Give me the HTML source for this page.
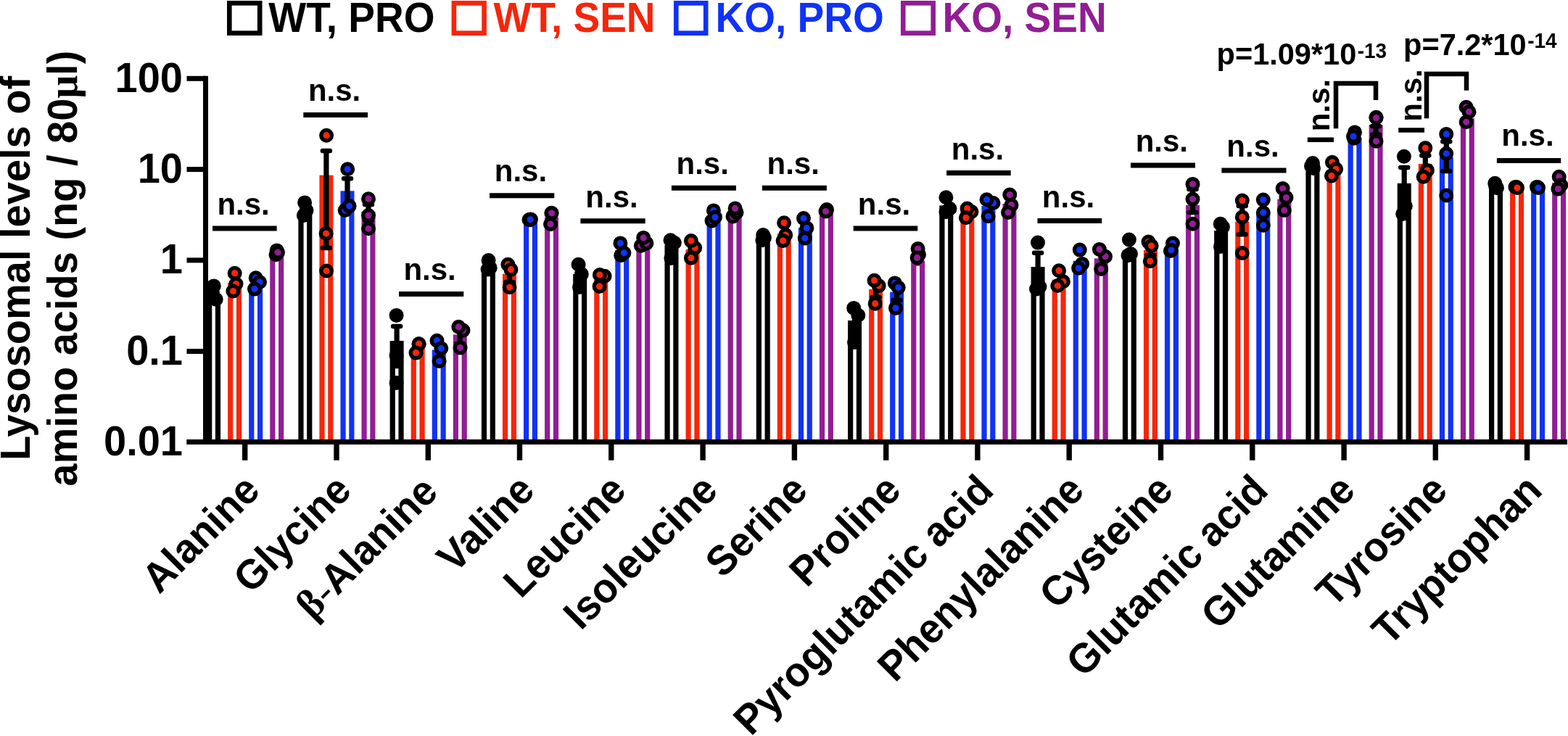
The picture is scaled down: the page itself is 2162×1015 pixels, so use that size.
<!DOCTYPE html>
<html><head><meta charset="utf-8"><title>Lysosomal amino acids</title>
<style>
html,body{margin:0;padding:0;background:#fff;}
svg{display:block;}
text{font-family:"Liberation Sans",Arial,Helvetica,sans-serif;font-weight:bold;}
</style></head><body>
<svg width="2162" height="1015" viewBox="0 0 2162 1015">
<rect x="0" y="0" width="2162" height="1015" fill="#fff"/>
<rect x="316.3" y="4.3" width="41.9" height="41.4" fill="none" stroke="#000000" stroke-width="6.6"/>
<text transform="translate(370.3,43.5) scale(1,1.04)" font-size="55" fill="#000000">WT, PRO</text>
<rect x="625.9" y="4.3" width="41.7" height="41.4" fill="none" stroke="#F5260A" stroke-width="6.6"/>
<text transform="translate(680.5,43.5) scale(1,1.04)" font-size="55" fill="#F5260A">WT, SEN</text>
<rect x="932.3" y="4.3" width="40.9" height="41.4" fill="none" stroke="#1032F5" stroke-width="6.6"/>
<text transform="translate(986.5,43.5) scale(1,1.04)" font-size="55" fill="#1032F5">KO, PRO</text>
<rect x="1245.3" y="4.3" width="41.4" height="41.4" fill="none" stroke="#911E93" stroke-width="6.6"/>
<text transform="translate(1299.5,43.5) scale(1,1.04)" font-size="55" fill="#911E93">KO, SEN</text>
<text transform="translate(41.0,369.9) rotate(-90) scale(1,1.02)" text-anchor="middle" font-size="56">Lysosomal levels of</text>
<text transform="translate(106.3,370.2) rotate(-90) scale(1,1.02)" text-anchor="middle" font-size="56">amino acids (ng / 80<tspan font-family="Liberation Serif">μ</tspan>l)</text>
<line x1="283.5" y1="104.8" x2="283.5" y2="613.0" stroke="#000" stroke-width="7"/>
<line x1="257.5" y1="108.3" x2="283.5" y2="108.3" stroke="#000" stroke-width="7"/>
<text transform="translate(252,126.6) scale(1,1.04)" text-anchor="end" font-size="56">100</text>
<line x1="257.5" y1="233.6" x2="283.5" y2="233.6" stroke="#000" stroke-width="7"/>
<text transform="translate(252,251.9) scale(1,1.04)" text-anchor="end" font-size="56">10</text>
<line x1="257.5" y1="358.9" x2="283.5" y2="358.9" stroke="#000" stroke-width="7"/>
<text transform="translate(252,377.2) scale(1,1.04)" text-anchor="end" font-size="56">1</text>
<line x1="257.5" y1="484.5" x2="283.5" y2="484.5" stroke="#000" stroke-width="7"/>
<text transform="translate(252,502.8) scale(1,1.04)" text-anchor="end" font-size="56">0.1</text>
<line x1="257.5" y1="609.5" x2="283.5" y2="609.5" stroke="#000" stroke-width="7"/>
<text transform="translate(252,627.8) scale(1,1.04)" text-anchor="end" font-size="56">0.01</text>
<rect x="285.07" y="405.0" width="19.0" height="204.5" fill="#000000"/>
<rect x="292.27" y="412.2" width="4.6" height="197.3" fill="#fff"/>
<rect x="314.12" y="390.0" width="19.0" height="219.5" fill="#F5260A"/>
<rect x="321.32" y="397.2" width="4.6" height="212.3" fill="#fff"/>
<rect x="343.18" y="395.0" width="19.0" height="214.5" fill="#1032F5"/>
<rect x="350.38" y="402.2" width="4.6" height="207.3" fill="#fff"/>
<rect x="372.23" y="352.0" width="19.0" height="257.5" fill="#911E93"/>
<rect x="379.43" y="359.2" width="4.6" height="250.3" fill="#fff"/>
<rect x="411.36" y="290.0" width="19.0" height="319.5" fill="#000000"/>
<rect x="418.56" y="297.2" width="4.6" height="312.3" fill="#fff"/>
<rect x="440.41" y="241.6" width="19.0" height="367.9" fill="#F5260A"/>
<rect x="447.61" y="248.8" width="4.6" height="360.7" fill="#fff"/>
<rect x="469.46" y="263.3" width="19.0" height="346.2" fill="#1032F5"/>
<rect x="476.66" y="270.5" width="4.6" height="339.0" fill="#fff"/>
<rect x="498.50" y="292.0" width="19.0" height="317.5" fill="#911E93"/>
<rect x="505.70" y="299.2" width="4.6" height="310.3" fill="#fff"/>
<rect x="537.63" y="470.0" width="19.0" height="139.5" fill="#000000"/>
<rect x="544.84" y="477.2" width="4.6" height="132.3" fill="#fff"/>
<rect x="566.68" y="480.0" width="19.0" height="129.5" fill="#F5260A"/>
<rect x="573.88" y="487.2" width="4.6" height="122.3" fill="#fff"/>
<rect x="595.74" y="482.5" width="19.0" height="127.0" fill="#1032F5"/>
<rect x="602.94" y="489.7" width="4.6" height="119.8" fill="#fff"/>
<rect x="624.78" y="461.4" width="19.0" height="148.1" fill="#911E93"/>
<rect x="631.99" y="468.6" width="4.6" height="140.9" fill="#fff"/>
<rect x="663.91" y="368.0" width="19.0" height="241.5" fill="#000000"/>
<rect x="671.12" y="375.2" width="4.6" height="234.3" fill="#fff"/>
<rect x="692.96" y="377.7" width="19.0" height="231.8" fill="#F5260A"/>
<rect x="700.16" y="384.9" width="4.6" height="224.6" fill="#fff"/>
<rect x="722.01" y="306.0" width="19.0" height="303.5" fill="#1032F5"/>
<rect x="729.22" y="313.2" width="4.6" height="296.3" fill="#fff"/>
<rect x="751.06" y="300.0" width="19.0" height="309.5" fill="#911E93"/>
<rect x="758.26" y="307.2" width="4.6" height="302.3" fill="#fff"/>
<rect x="790.19" y="378.0" width="19.0" height="231.5" fill="#000000"/>
<rect x="797.39" y="385.2" width="4.6" height="224.3" fill="#fff"/>
<rect x="819.24" y="386.0" width="19.0" height="223.5" fill="#F5260A"/>
<rect x="826.44" y="393.2" width="4.6" height="216.3" fill="#fff"/>
<rect x="848.29" y="345.0" width="19.0" height="264.5" fill="#1032F5"/>
<rect x="855.50" y="352.2" width="4.6" height="257.3" fill="#fff"/>
<rect x="877.34" y="335.0" width="19.0" height="274.5" fill="#911E93"/>
<rect x="884.54" y="342.2" width="4.6" height="267.3" fill="#fff"/>
<rect x="916.47" y="338.0" width="19.0" height="271.5" fill="#000000"/>
<rect x="923.67" y="345.2" width="4.6" height="264.3" fill="#fff"/>
<rect x="945.52" y="344.0" width="19.0" height="265.5" fill="#F5260A"/>
<rect x="952.72" y="351.2" width="4.6" height="258.3" fill="#fff"/>
<rect x="974.57" y="300.0" width="19.0" height="309.5" fill="#1032F5"/>
<rect x="981.77" y="307.2" width="4.6" height="302.3" fill="#fff"/>
<rect x="1003.62" y="294.0" width="19.0" height="315.5" fill="#911E93"/>
<rect x="1010.82" y="301.2" width="4.6" height="308.3" fill="#fff"/>
<rect x="1042.76" y="330.0" width="19.0" height="279.5" fill="#000000"/>
<rect x="1049.96" y="337.2" width="4.6" height="272.3" fill="#fff"/>
<rect x="1071.81" y="322.3" width="19.0" height="287.2" fill="#F5260A"/>
<rect x="1079.01" y="329.5" width="4.6" height="280.0" fill="#fff"/>
<rect x="1100.86" y="314.4" width="19.0" height="295.1" fill="#1032F5"/>
<rect x="1108.06" y="321.6" width="4.6" height="287.9" fill="#fff"/>
<rect x="1129.91" y="291.0" width="19.0" height="318.5" fill="#911E93"/>
<rect x="1137.11" y="298.2" width="4.6" height="311.3" fill="#fff"/>
<rect x="1169.04" y="442.0" width="19.0" height="167.5" fill="#000000"/>
<rect x="1176.24" y="449.2" width="4.6" height="160.3" fill="#fff"/>
<rect x="1198.09" y="399.0" width="19.0" height="210.5" fill="#F5260A"/>
<rect x="1205.29" y="406.2" width="4.6" height="203.3" fill="#fff"/>
<rect x="1227.13" y="402.7" width="19.0" height="206.8" fill="#1032F5"/>
<rect x="1234.34" y="409.9" width="4.6" height="199.6" fill="#fff"/>
<rect x="1256.19" y="359.6" width="19.0" height="249.9" fill="#911E93"/>
<rect x="1263.39" y="366.8" width="4.6" height="242.7" fill="#fff"/>
<rect x="1295.32" y="283.4" width="19.0" height="326.1" fill="#000000"/>
<rect x="1302.52" y="290.6" width="4.6" height="318.9" fill="#fff"/>
<rect x="1324.37" y="290.0" width="19.0" height="319.5" fill="#F5260A"/>
<rect x="1331.57" y="297.2" width="4.6" height="312.3" fill="#fff"/>
<rect x="1353.41" y="284.1" width="19.0" height="325.4" fill="#1032F5"/>
<rect x="1360.62" y="291.3" width="4.6" height="318.2" fill="#fff"/>
<rect x="1382.47" y="281.0" width="19.0" height="328.5" fill="#911E93"/>
<rect x="1389.67" y="288.2" width="4.6" height="321.3" fill="#fff"/>
<rect x="1421.60" y="368.1" width="19.0" height="241.4" fill="#000000"/>
<rect x="1428.80" y="375.3" width="4.6" height="234.2" fill="#fff"/>
<rect x="1450.64" y="385.7" width="19.0" height="223.8" fill="#F5260A"/>
<rect x="1457.85" y="392.9" width="4.6" height="216.6" fill="#fff"/>
<rect x="1479.69" y="359.7" width="19.0" height="249.8" fill="#1032F5"/>
<rect x="1486.89" y="366.9" width="4.6" height="242.6" fill="#fff"/>
<rect x="1508.75" y="356.4" width="19.0" height="253.1" fill="#911E93"/>
<rect x="1515.95" y="363.6" width="4.6" height="245.9" fill="#fff"/>
<rect x="1547.88" y="345.0" width="19.0" height="264.5" fill="#000000"/>
<rect x="1555.08" y="352.2" width="4.6" height="257.3" fill="#fff"/>
<rect x="1576.92" y="345.0" width="19.0" height="264.5" fill="#F5260A"/>
<rect x="1584.12" y="352.2" width="4.6" height="257.3" fill="#fff"/>
<rect x="1605.97" y="345.0" width="19.0" height="264.5" fill="#1032F5"/>
<rect x="1613.17" y="352.2" width="4.6" height="257.3" fill="#fff"/>
<rect x="1635.03" y="282.8" width="19.0" height="326.7" fill="#911E93"/>
<rect x="1642.23" y="290.0" width="4.6" height="319.5" fill="#fff"/>
<rect x="1674.15" y="318.0" width="19.0" height="291.5" fill="#000000"/>
<rect x="1681.36" y="325.2" width="4.6" height="284.3" fill="#fff"/>
<rect x="1703.20" y="305.6" width="19.0" height="303.9" fill="#F5260A"/>
<rect x="1710.40" y="312.8" width="4.6" height="296.7" fill="#fff"/>
<rect x="1732.25" y="293.0" width="19.0" height="316.5" fill="#1032F5"/>
<rect x="1739.45" y="300.2" width="4.6" height="309.3" fill="#fff"/>
<rect x="1761.31" y="274.6" width="19.0" height="334.9" fill="#911E93"/>
<rect x="1768.51" y="281.8" width="4.6" height="327.7" fill="#fff"/>
<rect x="1800.44" y="230.0" width="19.0" height="379.5" fill="#000000"/>
<rect x="1807.64" y="237.2" width="4.6" height="372.3" fill="#fff"/>
<rect x="1829.49" y="240.0" width="19.0" height="369.5" fill="#F5260A"/>
<rect x="1836.69" y="247.2" width="4.6" height="362.3" fill="#fff"/>
<rect x="1858.54" y="190.0" width="19.0" height="419.5" fill="#1032F5"/>
<rect x="1865.74" y="197.2" width="4.6" height="412.3" fill="#fff"/>
<rect x="1887.59" y="172.0" width="19.0" height="437.5" fill="#911E93"/>
<rect x="1894.79" y="179.2" width="4.6" height="430.3" fill="#fff"/>
<rect x="1926.72" y="252.8" width="19.0" height="356.7" fill="#000000"/>
<rect x="1933.92" y="260.0" width="4.6" height="349.5" fill="#fff"/>
<rect x="1955.77" y="225.9" width="19.0" height="383.6" fill="#F5260A"/>
<rect x="1962.97" y="233.1" width="4.6" height="376.4" fill="#fff"/>
<rect x="1984.82" y="217.0" width="19.0" height="392.5" fill="#1032F5"/>
<rect x="1992.02" y="224.2" width="4.6" height="385.3" fill="#fff"/>
<rect x="2013.87" y="163.2" width="19.0" height="446.3" fill="#911E93"/>
<rect x="2021.07" y="170.4" width="4.6" height="439.1" fill="#fff"/>
<rect x="2052.99" y="256.0" width="19.0" height="353.5" fill="#000000"/>
<rect x="2060.19" y="263.2" width="4.6" height="346.3" fill="#fff"/>
<rect x="2082.05" y="258.0" width="19.0" height="351.5" fill="#F5260A"/>
<rect x="2089.24" y="265.2" width="4.6" height="344.3" fill="#fff"/>
<rect x="2111.09" y="258.0" width="19.0" height="351.5" fill="#1032F5"/>
<rect x="2118.29" y="265.2" width="4.6" height="344.3" fill="#fff"/>
<rect x="2140.14" y="252.0" width="19.0" height="357.5" fill="#911E93"/>
<rect x="2147.34" y="259.2" width="4.6" height="350.3" fill="#fff"/>
<line x1="257.5" y1="609.5" x2="2161" y2="609.5" stroke="#000" stroke-width="7"/>
<line x1="337.7" y1="609.5" x2="337.7" y2="634.8" stroke="#000" stroke-width="7.4"/>
<line x1="464.0" y1="609.5" x2="464.0" y2="634.8" stroke="#000" stroke-width="7.4"/>
<line x1="590.3" y1="609.5" x2="590.3" y2="634.8" stroke="#000" stroke-width="7.4"/>
<line x1="716.5" y1="609.5" x2="716.5" y2="634.8" stroke="#000" stroke-width="7.4"/>
<line x1="842.8" y1="609.5" x2="842.8" y2="634.8" stroke="#000" stroke-width="7.4"/>
<line x1="969.1" y1="609.5" x2="969.1" y2="634.8" stroke="#000" stroke-width="7.4"/>
<line x1="1095.4" y1="609.5" x2="1095.4" y2="634.8" stroke="#000" stroke-width="7.4"/>
<line x1="1221.7" y1="609.5" x2="1221.7" y2="634.8" stroke="#000" stroke-width="7.4"/>
<line x1="1347.9" y1="609.5" x2="1347.9" y2="634.8" stroke="#000" stroke-width="7.4"/>
<line x1="1474.2" y1="609.5" x2="1474.2" y2="634.8" stroke="#000" stroke-width="7.4"/>
<line x1="1600.5" y1="609.5" x2="1600.5" y2="634.8" stroke="#000" stroke-width="7.4"/>
<line x1="1726.8" y1="609.5" x2="1726.8" y2="634.8" stroke="#000" stroke-width="7.4"/>
<line x1="1853.1" y1="609.5" x2="1853.1" y2="634.8" stroke="#000" stroke-width="7.4"/>
<line x1="1979.3" y1="609.5" x2="1979.3" y2="634.8" stroke="#000" stroke-width="7.4"/>
<line x1="2105.6" y1="609.5" x2="2105.6" y2="634.8" stroke="#000" stroke-width="7.4"/>
<circle cx="294.8" cy="394.4" r="7.3" fill="#000000" stroke="#000" stroke-width="5.4"/>
<circle cx="297.7" cy="412.8" r="7.3" fill="#000000" stroke="#000" stroke-width="5.4"/>
<circle cx="293" cy="404" r="7.3" fill="#000000" stroke="#000" stroke-width="5.4"/>
<circle cx="323.7" cy="376.7" r="7.3" fill="#F5260A" stroke="#000" stroke-width="5.4"/>
<circle cx="325.5" cy="391.5" r="7.3" fill="#F5260A" stroke="#000" stroke-width="5.4"/>
<circle cx="321.4" cy="401.5" r="7.3" fill="#F5260A" stroke="#000" stroke-width="5.4"/>
<circle cx="352.7" cy="383.2" r="7.3" fill="#1032F5" stroke="#000" stroke-width="5.4"/>
<circle cx="358" cy="389" r="7.3" fill="#1032F5" stroke="#000" stroke-width="5.4"/>
<circle cx="351" cy="398.6" r="7.3" fill="#1032F5" stroke="#000" stroke-width="5.4"/>
<circle cx="381.7" cy="345.4" r="7.3" fill="#911E93" stroke="#000" stroke-width="5.4"/>
<circle cx="380.5" cy="351.3" r="7.3" fill="#911E93" stroke="#000" stroke-width="5.4"/>
<circle cx="383" cy="348" r="7.3" fill="#911E93" stroke="#000" stroke-width="5.4"/>
<path d="M449.9 208 V342" stroke="#000" stroke-width="7.2" fill="none"/>
<path d="M444.9 208 H454.9 M444.9 342 H454.9" stroke="#000" stroke-width="6.5" fill="none" stroke-linecap="round"/>
<path d="M479.0 246.3 V284" stroke="#000" stroke-width="7.2" fill="none"/>
<path d="M474.0 246.3 H484.0 M474.0 284 H484.0" stroke="#000" stroke-width="6.5" fill="none" stroke-linecap="round"/>
<path d="M508.0 282 V304" stroke="#000" stroke-width="7.2" fill="none"/>
<path d="M503.0 282 H513.0 M503.0 304 H513.0" stroke="#000" stroke-width="6.5" fill="none" stroke-linecap="round"/>
<circle cx="420.1" cy="279.4" r="7.3" fill="#000000" stroke="#000" stroke-width="5.4"/>
<circle cx="422.5" cy="290" r="7.3" fill="#000000" stroke="#000" stroke-width="5.4"/>
<circle cx="418.9" cy="297" r="7.3" fill="#000000" stroke="#000" stroke-width="5.4"/>
<circle cx="450.1" cy="186.7" r="7.3" fill="#F5260A" stroke="#000" stroke-width="5.4"/>
<circle cx="449.6" cy="322" r="7.3" fill="#F5260A" stroke="#000" stroke-width="5.4"/>
<circle cx="450.1" cy="373.5" r="7.3" fill="#F5260A" stroke="#000" stroke-width="5.4"/>
<circle cx="479.2" cy="233.3" r="7.3" fill="#1032F5" stroke="#000" stroke-width="5.4"/>
<circle cx="475.7" cy="290" r="7.3" fill="#1032F5" stroke="#000" stroke-width="5.4"/>
<circle cx="481.6" cy="284.1" r="7.3" fill="#1032F5" stroke="#000" stroke-width="5.4"/>
<circle cx="508" cy="274.2" r="7.3" fill="#911E93" stroke="#000" stroke-width="5.4"/>
<circle cx="508" cy="297.1" r="7.3" fill="#911E93" stroke="#000" stroke-width="5.4"/>
<circle cx="508" cy="315.3" r="7.3" fill="#911E93" stroke="#000" stroke-width="5.4"/>
<path d="M547.1 450 V505" stroke="#000" stroke-width="7.2" fill="none"/>
<path d="M542.1 450 H552.1 M542.1 505 H552.1" stroke="#000" stroke-width="6.5" fill="none" stroke-linecap="round"/>
<path d="M634.3 455 V474" stroke="#000" stroke-width="7.2" fill="none"/>
<path d="M629.3 455 H639.3 M629.3 474 H639.3" stroke="#000" stroke-width="6.5" fill="none" stroke-linecap="round"/>
<circle cx="546.6" cy="434.9" r="7.3" fill="#000000" stroke="#000" stroke-width="5.4"/>
<circle cx="546.6" cy="490" r="7.3" fill="#000000" stroke="#000" stroke-width="5.4"/>
<circle cx="546.6" cy="528" r="7.3" fill="#000000" stroke="#000" stroke-width="5.4"/>
<circle cx="577.6" cy="474.2" r="7.3" fill="#F5260A" stroke="#000" stroke-width="5.4"/>
<circle cx="577.6" cy="474.2" r="7.3" fill="#F5260A" stroke="#000" stroke-width="5.4"/>
<circle cx="573.5" cy="486.6" r="7.3" fill="#F5260A" stroke="#000" stroke-width="5.4"/>
<circle cx="602.5" cy="469.7" r="7.3" fill="#1032F5" stroke="#000" stroke-width="5.4"/>
<circle cx="608.3" cy="480.4" r="7.3" fill="#1032F5" stroke="#000" stroke-width="5.4"/>
<circle cx="605.6" cy="498" r="7.3" fill="#1032F5" stroke="#000" stroke-width="5.4"/>
<circle cx="638.5" cy="455.6" r="7.3" fill="#911E93" stroke="#000" stroke-width="5.4"/>
<circle cx="632.3" cy="450.8" r="7.3" fill="#911E93" stroke="#000" stroke-width="5.4"/>
<circle cx="634.6" cy="479.6" r="7.3" fill="#911E93" stroke="#000" stroke-width="5.4"/>
<path d="M702.5 371 V389" stroke="#000" stroke-width="7.2" fill="none"/>
<path d="M697.5 371 H707.5 M697.5 389 H707.5" stroke="#000" stroke-width="6.5" fill="none" stroke-linecap="round"/>
<circle cx="673.6" cy="359" r="7.3" fill="#000000" stroke="#000" stroke-width="5.4"/>
<circle cx="672.6" cy="371.5" r="7.3" fill="#000000" stroke="#000" stroke-width="5.4"/>
<circle cx="675.7" cy="369.4" r="7.3" fill="#000000" stroke="#000" stroke-width="5.4"/>
<circle cx="700.4" cy="364.8" r="7.3" fill="#F5260A" stroke="#000" stroke-width="5.4"/>
<circle cx="704.5" cy="371.7" r="7.3" fill="#F5260A" stroke="#000" stroke-width="5.4"/>
<circle cx="702.6" cy="396.3" r="7.3" fill="#F5260A" stroke="#000" stroke-width="5.4"/>
<circle cx="729.5" cy="303" r="7.3" fill="#1032F5" stroke="#000" stroke-width="5.4"/>
<circle cx="732" cy="302.5" r="7.3" fill="#1032F5" stroke="#000" stroke-width="5.4"/>
<circle cx="731.2" cy="302.8" r="7.3" fill="#1032F5" stroke="#000" stroke-width="5.4"/>
<circle cx="760.4" cy="294" r="7.3" fill="#911E93" stroke="#000" stroke-width="5.4"/>
<circle cx="759" cy="309" r="7.3" fill="#911E93" stroke="#000" stroke-width="5.4"/>
<circle cx="760.6" cy="293.8" r="7.3" fill="#911E93" stroke="#000" stroke-width="5.4"/>
<circle cx="797.6" cy="364.7" r="7.3" fill="#000000" stroke="#000" stroke-width="5.4"/>
<circle cx="801.8" cy="378.1" r="7.3" fill="#000000" stroke="#000" stroke-width="5.4"/>
<circle cx="799" cy="396" r="7.3" fill="#000000" stroke="#000" stroke-width="5.4"/>
<circle cx="833.6" cy="380.7" r="7.3" fill="#F5260A" stroke="#000" stroke-width="5.4"/>
<circle cx="826.9" cy="379" r="7.3" fill="#F5260A" stroke="#000" stroke-width="5.4"/>
<circle cx="826.6" cy="394.9" r="7.3" fill="#F5260A" stroke="#000" stroke-width="5.4"/>
<circle cx="855.4" cy="335.4" r="7.3" fill="#1032F5" stroke="#000" stroke-width="5.4"/>
<circle cx="856.2" cy="352.2" r="7.3" fill="#1032F5" stroke="#000" stroke-width="5.4"/>
<circle cx="860.4" cy="348.8" r="7.3" fill="#1032F5" stroke="#000" stroke-width="5.4"/>
<circle cx="883.9" cy="338.8" r="7.3" fill="#911E93" stroke="#000" stroke-width="5.4"/>
<circle cx="891.4" cy="335.4" r="7.3" fill="#911E93" stroke="#000" stroke-width="5.4"/>
<circle cx="887.2" cy="327.9" r="7.3" fill="#911E93" stroke="#000" stroke-width="5.4"/>
<path d="M926.0 338 V360" stroke="#000" stroke-width="7.2" fill="none"/>
<path d="M921.0 338 H931.0 M921.0 360 H931.0" stroke="#000" stroke-width="6.5" fill="none" stroke-linecap="round"/>
<circle cx="924.5" cy="331.2" r="7.3" fill="#000000" stroke="#000" stroke-width="5.4"/>
<circle cx="929.8" cy="334.8" r="7.3" fill="#000000" stroke="#000" stroke-width="5.4"/>
<circle cx="925.4" cy="356" r="7.3" fill="#000000" stroke="#000" stroke-width="5.4"/>
<circle cx="958.2" cy="341.8" r="7.3" fill="#F5260A" stroke="#000" stroke-width="5.4"/>
<circle cx="952.9" cy="332.1" r="7.3" fill="#F5260A" stroke="#000" stroke-width="5.4"/>
<circle cx="952.9" cy="355.7" r="7.3" fill="#F5260A" stroke="#000" stroke-width="5.4"/>
<circle cx="983.9" cy="290.4" r="7.3" fill="#1032F5" stroke="#000" stroke-width="5.4"/>
<circle cx="981.5" cy="304.5" r="7.3" fill="#1032F5" stroke="#000" stroke-width="5.4"/>
<circle cx="986" cy="299.5" r="7.3" fill="#1032F5" stroke="#000" stroke-width="5.4"/>
<circle cx="1010.5" cy="298.4" r="7.3" fill="#911E93" stroke="#000" stroke-width="5.4"/>
<circle cx="1015.5" cy="293.1" r="7.3" fill="#911E93" stroke="#000" stroke-width="5.4"/>
<circle cx="1013.6" cy="287.4" r="7.3" fill="#911E93" stroke="#000" stroke-width="5.4"/>
<circle cx="1052.2" cy="324.1" r="7.3" fill="#000000" stroke="#000" stroke-width="5.4"/>
<circle cx="1051.3" cy="331.2" r="7.3" fill="#000000" stroke="#000" stroke-width="5.4"/>
<circle cx="1053.9" cy="327.7" r="7.3" fill="#000000" stroke="#000" stroke-width="5.4"/>
<circle cx="1081.1" cy="307.3" r="7.3" fill="#F5260A" stroke="#000" stroke-width="5.4"/>
<circle cx="1083.2" cy="324.1" r="7.3" fill="#F5260A" stroke="#000" stroke-width="5.4"/>
<circle cx="1079.6" cy="332.1" r="7.3" fill="#F5260A" stroke="#000" stroke-width="5.4"/>
<circle cx="1108" cy="301.1" r="7.3" fill="#1032F5" stroke="#000" stroke-width="5.4"/>
<circle cx="1112.4" cy="314.4" r="7.3" fill="#1032F5" stroke="#000" stroke-width="5.4"/>
<circle cx="1109.8" cy="328.5" r="7.3" fill="#1032F5" stroke="#000" stroke-width="5.4"/>
<circle cx="1139.6" cy="290.4" r="7.3" fill="#911E93" stroke="#000" stroke-width="5.4"/>
<circle cx="1140" cy="289" r="7.3" fill="#911E93" stroke="#000" stroke-width="5.4"/>
<circle cx="1138.5" cy="291.5" r="7.3" fill="#911E93" stroke="#000" stroke-width="5.4"/>
<path d="M1178.5 425 V478" stroke="#000" stroke-width="7.2" fill="none"/>
<path d="M1173.5 425 H1183.5 M1173.5 478 H1183.5" stroke="#000" stroke-width="6.5" fill="none" stroke-linecap="round"/>
<path d="M1207.6 390 V410" stroke="#000" stroke-width="7.2" fill="none"/>
<path d="M1202.6 390 H1212.6 M1202.6 410 H1212.6" stroke="#000" stroke-width="6.5" fill="none" stroke-linecap="round"/>
<path d="M1236.6 392 V414" stroke="#000" stroke-width="7.2" fill="none"/>
<path d="M1231.6 392 H1241.6 M1231.6 414 H1241.6" stroke="#000" stroke-width="6.5" fill="none" stroke-linecap="round"/>
<circle cx="1177.2" cy="424.9" r="7.3" fill="#000000" stroke="#000" stroke-width="5.4"/>
<circle cx="1183.3" cy="434.7" r="7.3" fill="#000000" stroke="#000" stroke-width="5.4"/>
<circle cx="1178" cy="472" r="7.3" fill="#000000" stroke="#000" stroke-width="5.4"/>
<circle cx="1211.7" cy="394.1" r="7.3" fill="#F5260A" stroke="#000" stroke-width="5.4"/>
<circle cx="1205.5" cy="386.7" r="7.3" fill="#F5260A" stroke="#000" stroke-width="5.4"/>
<circle cx="1206.7" cy="418.7" r="7.3" fill="#F5260A" stroke="#000" stroke-width="5.4"/>
<circle cx="1233.8" cy="390.4" r="7.3" fill="#1032F5" stroke="#000" stroke-width="5.4"/>
<circle cx="1238.7" cy="396.6" r="7.3" fill="#1032F5" stroke="#000" stroke-width="5.4"/>
<circle cx="1235" cy="424.9" r="7.3" fill="#1032F5" stroke="#000" stroke-width="5.4"/>
<circle cx="1267" cy="351" r="7.3" fill="#911E93" stroke="#000" stroke-width="5.4"/>
<circle cx="1265.6" cy="343" r="7.3" fill="#911E93" stroke="#000" stroke-width="5.4"/>
<circle cx="1264.6" cy="355.4" r="7.3" fill="#911E93" stroke="#000" stroke-width="5.4"/>
<circle cx="1304.4" cy="272.3" r="7.3" fill="#000000" stroke="#000" stroke-width="5.4"/>
<circle cx="1304.4" cy="292.3" r="7.3" fill="#000000" stroke="#000" stroke-width="5.4"/>
<circle cx="1309.5" cy="287.8" r="7.3" fill="#000000" stroke="#000" stroke-width="5.4"/>
<circle cx="1339.5" cy="292" r="7.3" fill="#F5260A" stroke="#000" stroke-width="5.4"/>
<circle cx="1333.6" cy="287.6" r="7.3" fill="#F5260A" stroke="#000" stroke-width="5.4"/>
<circle cx="1331.9" cy="300.3" r="7.3" fill="#F5260A" stroke="#000" stroke-width="5.4"/>
<circle cx="1369.5" cy="280" r="7.3" fill="#1032F5" stroke="#000" stroke-width="5.4"/>
<circle cx="1360.5" cy="275.2" r="7.3" fill="#1032F5" stroke="#000" stroke-width="5.4"/>
<circle cx="1362.6" cy="298.3" r="7.3" fill="#1032F5" stroke="#000" stroke-width="5.4"/>
<circle cx="1392.3" cy="268.6" r="7.3" fill="#911E93" stroke="#000" stroke-width="5.4"/>
<circle cx="1394.5" cy="282.7" r="7.3" fill="#911E93" stroke="#000" stroke-width="5.4"/>
<circle cx="1390" cy="293" r="7.3" fill="#911E93" stroke="#000" stroke-width="5.4"/>
<path d="M1431.1 348.8 V400" stroke="#000" stroke-width="7.2" fill="none"/>
<path d="M1426.1 348.8 H1436.1 M1426.1 400 H1436.1" stroke="#000" stroke-width="6.5" fill="none" stroke-linecap="round"/>
<circle cx="1431" cy="334.6" r="7.3" fill="#000000" stroke="#000" stroke-width="5.4"/>
<circle cx="1433.5" cy="395.5" r="7.3" fill="#000000" stroke="#000" stroke-width="5.4"/>
<circle cx="1429" cy="398.5" r="7.3" fill="#000000" stroke="#000" stroke-width="5.4"/>
<circle cx="1465.9" cy="388.3" r="7.3" fill="#F5260A" stroke="#000" stroke-width="5.4"/>
<circle cx="1460.1" cy="373.2" r="7.3" fill="#F5260A" stroke="#000" stroke-width="5.4"/>
<circle cx="1458.3" cy="394" r="7.3" fill="#F5260A" stroke="#000" stroke-width="5.4"/>
<circle cx="1488.8" cy="344.6" r="7.3" fill="#1032F5" stroke="#000" stroke-width="5.4"/>
<circle cx="1492.1" cy="363.9" r="7.3" fill="#1032F5" stroke="#000" stroke-width="5.4"/>
<circle cx="1487.1" cy="369.8" r="7.3" fill="#1032F5" stroke="#000" stroke-width="5.4"/>
<circle cx="1524" cy="353.7" r="7.3" fill="#911E93" stroke="#000" stroke-width="5.4"/>
<circle cx="1515.9" cy="343.9" r="7.3" fill="#911E93" stroke="#000" stroke-width="5.4"/>
<circle cx="1518.2" cy="371" r="7.3" fill="#911E93" stroke="#000" stroke-width="5.4"/>
<path d="M1586.4 340 V352" stroke="#000" stroke-width="7.2" fill="none"/>
<path d="M1581.4 340 H1591.4 M1581.4 352 H1591.4" stroke="#000" stroke-width="6.5" fill="none" stroke-linecap="round"/>
<path d="M1644.5 261 V293" stroke="#000" stroke-width="7.2" fill="none"/>
<path d="M1639.5 261 H1649.5 M1639.5 293 H1649.5" stroke="#000" stroke-width="6.5" fill="none" stroke-linecap="round"/>
<circle cx="1556.9" cy="330.5" r="7.3" fill="#000000" stroke="#000" stroke-width="5.4"/>
<circle cx="1559" cy="350" r="7.3" fill="#000000" stroke="#000" stroke-width="5.4"/>
<circle cx="1555.5" cy="352.3" r="7.3" fill="#000000" stroke="#000" stroke-width="5.4"/>
<circle cx="1583.5" cy="333.6" r="7.3" fill="#F5260A" stroke="#000" stroke-width="5.4"/>
<circle cx="1587.6" cy="339" r="7.3" fill="#F5260A" stroke="#000" stroke-width="5.4"/>
<circle cx="1585.8" cy="360.2" r="7.3" fill="#F5260A" stroke="#000" stroke-width="5.4"/>
<circle cx="1617" cy="335.6" r="7.3" fill="#1032F5" stroke="#000" stroke-width="5.4"/>
<circle cx="1613.9" cy="346" r="7.3" fill="#1032F5" stroke="#000" stroke-width="5.4"/>
<circle cx="1615" cy="345" r="7.3" fill="#1032F5" stroke="#000" stroke-width="5.4"/>
<circle cx="1644.5" cy="253.9" r="7.3" fill="#911E93" stroke="#000" stroke-width="5.4"/>
<circle cx="1644.5" cy="274.6" r="7.3" fill="#911E93" stroke="#000" stroke-width="5.4"/>
<circle cx="1644.5" cy="308.7" r="7.3" fill="#911E93" stroke="#000" stroke-width="5.4"/>
<path d="M1683.7 312 V344" stroke="#000" stroke-width="7.2" fill="none"/>
<path d="M1678.7 312 H1688.7 M1678.7 344 H1688.7" stroke="#000" stroke-width="6.5" fill="none" stroke-linecap="round"/>
<path d="M1712.7 283.9 V323.2" stroke="#000" stroke-width="7.2" fill="none"/>
<path d="M1707.7 283.9 H1717.7 M1707.7 323.2 H1717.7" stroke="#000" stroke-width="6.5" fill="none" stroke-linecap="round"/>
<circle cx="1682.8" cy="308.7" r="7.3" fill="#000000" stroke="#000" stroke-width="5.4"/>
<circle cx="1685.9" cy="312.9" r="7.3" fill="#000000" stroke="#000" stroke-width="5.4"/>
<circle cx="1683" cy="340" r="7.3" fill="#000000" stroke="#000" stroke-width="5.4"/>
<circle cx="1712.8" cy="276.6" r="7.3" fill="#F5260A" stroke="#000" stroke-width="5.4"/>
<circle cx="1712.8" cy="299.4" r="7.3" fill="#F5260A" stroke="#000" stroke-width="5.4"/>
<circle cx="1712.8" cy="349.1" r="7.3" fill="#F5260A" stroke="#000" stroke-width="5.4"/>
<circle cx="1741.8" cy="275.6" r="7.3" fill="#1032F5" stroke="#000" stroke-width="5.4"/>
<circle cx="1741.8" cy="293.2" r="7.3" fill="#1032F5" stroke="#000" stroke-width="5.4"/>
<circle cx="1741.8" cy="310.8" r="7.3" fill="#1032F5" stroke="#000" stroke-width="5.4"/>
<circle cx="1768.7" cy="260" r="7.3" fill="#911E93" stroke="#000" stroke-width="5.4"/>
<circle cx="1773.5" cy="272.5" r="7.3" fill="#911E93" stroke="#000" stroke-width="5.4"/>
<circle cx="1770.8" cy="290.1" r="7.3" fill="#911E93" stroke="#000" stroke-width="5.4"/>
<path d="M1897.1 174 V185.5" stroke="#000" stroke-width="7.2" fill="none"/>
<path d="M1892.1 174 H1902.1 M1892.1 185.5 H1902.1" stroke="#000" stroke-width="6.5" fill="none" stroke-linecap="round"/>
<circle cx="1810" cy="225" r="7.3" fill="#000000" stroke="#000" stroke-width="5.4"/>
<circle cx="1808" cy="229" r="7.3" fill="#000000" stroke="#000" stroke-width="5.4"/>
<circle cx="1811" cy="232" r="7.3" fill="#000000" stroke="#000" stroke-width="5.4"/>
<circle cx="1836.9" cy="223.8" r="7.3" fill="#F5260A" stroke="#000" stroke-width="5.4"/>
<circle cx="1842.1" cy="233.1" r="7.3" fill="#F5260A" stroke="#000" stroke-width="5.4"/>
<circle cx="1835.9" cy="242.4" r="7.3" fill="#F5260A" stroke="#000" stroke-width="5.4"/>
<circle cx="1868" cy="182.4" r="7.3" fill="#1032F5" stroke="#000" stroke-width="5.4"/>
<circle cx="1867" cy="190.7" r="7.3" fill="#1032F5" stroke="#000" stroke-width="5.4"/>
<circle cx="1866" cy="188" r="7.3" fill="#1032F5" stroke="#000" stroke-width="5.4"/>
<circle cx="1897.5" cy="161.7" r="7.3" fill="#911E93" stroke="#000" stroke-width="5.4"/>
<circle cx="1897.5" cy="162.5" r="7.3" fill="#911E93" stroke="#000" stroke-width="5.4"/>
<circle cx="1897.5" cy="194.8" r="7.3" fill="#911E93" stroke="#000" stroke-width="5.4"/>
<path d="M1936.2 231 V300" stroke="#000" stroke-width="7.2" fill="none"/>
<path d="M1931.2 231 H1941.2 M1931.2 300 H1941.2" stroke="#000" stroke-width="6.5" fill="none" stroke-linecap="round"/>
<path d="M1965.3 214.4 V240" stroke="#000" stroke-width="7.2" fill="none"/>
<path d="M1960.3 214.4 H1970.3 M1960.3 240 H1970.3" stroke="#000" stroke-width="6.5" fill="none" stroke-linecap="round"/>
<path d="M1994.3 195.2 V236.1" stroke="#000" stroke-width="7.2" fill="none"/>
<path d="M1989.3 195.2 H1999.3 M1989.3 236.1 H1999.3" stroke="#000" stroke-width="6.5" fill="none" stroke-linecap="round"/>
<circle cx="1935.9" cy="215.7" r="7.3" fill="#000000" stroke="#000" stroke-width="5.4"/>
<circle cx="1937.8" cy="284" r="7.3" fill="#000000" stroke="#000" stroke-width="5.4"/>
<circle cx="1934.2" cy="295" r="7.3" fill="#000000" stroke="#000" stroke-width="5.4"/>
<circle cx="1965.3" cy="204.1" r="7.3" fill="#F5260A" stroke="#000" stroke-width="5.4"/>
<circle cx="1967.9" cy="234.9" r="7.3" fill="#F5260A" stroke="#000" stroke-width="5.4"/>
<circle cx="1962.7" cy="243.8" r="7.3" fill="#F5260A" stroke="#000" stroke-width="5.4"/>
<circle cx="1994.2" cy="184.9" r="7.3" fill="#1032F5" stroke="#000" stroke-width="5.4"/>
<circle cx="1994.2" cy="211.8" r="7.3" fill="#1032F5" stroke="#000" stroke-width="5.4"/>
<circle cx="1994.2" cy="269.4" r="7.3" fill="#1032F5" stroke="#000" stroke-width="5.4"/>
<circle cx="2021.6" cy="147.8" r="7.3" fill="#911E93" stroke="#000" stroke-width="5.4"/>
<circle cx="2025.5" cy="154.2" r="7.3" fill="#911E93" stroke="#000" stroke-width="5.4"/>
<circle cx="2021.6" cy="168.3" r="7.3" fill="#911E93" stroke="#000" stroke-width="5.4"/>
<circle cx="2061.3" cy="252.8" r="7.3" fill="#000000" stroke="#000" stroke-width="5.4"/>
<circle cx="2063.9" cy="259.2" r="7.3" fill="#000000" stroke="#000" stroke-width="5.4"/>
<circle cx="2062" cy="256" r="7.3" fill="#000000" stroke="#000" stroke-width="5.4"/>
<circle cx="2089.5" cy="257.9" r="7.3" fill="#F5260A" stroke="#000" stroke-width="5.4"/>
<circle cx="2091" cy="258" r="7.3" fill="#F5260A" stroke="#000" stroke-width="5.4"/>
<circle cx="2092" cy="259" r="7.3" fill="#F5260A" stroke="#000" stroke-width="5.4"/>
<circle cx="2119" cy="257.9" r="7.3" fill="#1032F5" stroke="#000" stroke-width="5.4"/>
<circle cx="2120" cy="258" r="7.3" fill="#1032F5" stroke="#000" stroke-width="5.4"/>
<circle cx="2121" cy="259" r="7.3" fill="#1032F5" stroke="#000" stroke-width="5.4"/>
<circle cx="2149.7" cy="243.8" r="7.3" fill="#911E93" stroke="#000" stroke-width="5.4"/>
<circle cx="2152.2" cy="255.3" r="7.3" fill="#911E93" stroke="#000" stroke-width="5.4"/>
<circle cx="2148.4" cy="260.5" r="7.3" fill="#911E93" stroke="#000" stroke-width="5.4"/>
<text transform="translate(335.6,295.8)" text-anchor="middle" font-size="42">n.s.</text>
<line x1="293" y1="315.1" x2="381.7" y2="315.1" stroke="#000" stroke-width="7"/>
<text transform="translate(461.1,139.0)" text-anchor="middle" font-size="42">n.s.</text>
<line x1="418.3" y1="158.5" x2="507" y2="158.5" stroke="#000" stroke-width="7"/>
<text transform="translate(592.6,386.2)" text-anchor="middle" font-size="42">n.s.</text>
<line x1="550" y1="405.4" x2="639.3" y2="405.4" stroke="#000" stroke-width="7"/>
<text transform="translate(717.9,250.4)" text-anchor="middle" font-size="42">n.s.</text>
<line x1="675" y1="269.7" x2="764.3" y2="269.7" stroke="#000" stroke-width="7"/>
<text transform="translate(843.5,285.5)" text-anchor="middle" font-size="42">n.s.</text>
<line x1="800.4" y1="304.7" x2="889.7" y2="304.7" stroke="#000" stroke-width="7"/>
<text transform="translate(968.7,239.9)" text-anchor="middle" font-size="42">n.s.</text>
<line x1="925.9" y1="259.2" x2="1014.9" y2="259.2" stroke="#000" stroke-width="7"/>
<text transform="translate(1093.7,239.9)" text-anchor="middle" font-size="42">n.s.</text>
<line x1="1050.9" y1="259.2" x2="1139.9" y2="259.2" stroke="#000" stroke-width="7"/>
<text transform="translate(1219.0,296.3)" text-anchor="middle" font-size="42">n.s.</text>
<line x1="1176.7" y1="315" x2="1265.3" y2="315" stroke="#000" stroke-width="7"/>
<text transform="translate(1347.9,219.6)" text-anchor="middle" font-size="42">n.s.</text>
<line x1="1305.1" y1="238.4" x2="1393.7" y2="238.4" stroke="#000" stroke-width="7"/>
<text transform="translate(1473.0,285.5)" text-anchor="middle" font-size="42">n.s.</text>
<line x1="1430.5" y1="304.5" x2="1519.2" y2="304.5" stroke="#000" stroke-width="7"/>
<text transform="translate(1601.8,208.9)" text-anchor="middle" font-size="42">n.s.</text>
<line x1="1559" y1="227.9" x2="1648" y2="227.9" stroke="#000" stroke-width="7"/>
<text transform="translate(1727.5,215.5)" text-anchor="middle" font-size="42">n.s.</text>
<line x1="1684.4" y1="234.9" x2="1773.5" y2="234.9" stroke="#000" stroke-width="7"/>
<text transform="translate(2106.4,201)" text-anchor="middle" font-size="42">n.s.</text>
<line x1="2063.9" y1="221.4" x2="2152.2" y2="221.4" stroke="#000" stroke-width="7"/>
<line x1="1802.8" y1="192.8" x2="1839" y2="192.8" stroke="#000" stroke-width="6.5"/>
<text transform="translate(1832.5,145.2) rotate(-90)" text-anchor="middle" font-size="42">n.s.</text>
<path d="M1842 177.3 V115 H1897 V138" stroke="#000" stroke-width="6.5" fill="none"/>
<text transform="translate(1677.6,89.3) scale(1,1.04)" font-size="41.5">p=1.09*10<tspan font-size="28" dx="1.5" dy="-9.0">-13</tspan></text>
<line x1="1928.2" y1="179.5" x2="1964" y2="179.5" stroke="#000" stroke-width="6.5"/>
<text transform="translate(1960,131.5) rotate(-90)" text-anchor="middle" font-size="42">n.s.</text>
<path d="M1967 163.2 V102 H2022 V124.7" stroke="#000" stroke-width="6.5" fill="none"/>
<text transform="translate(1935.1,76.1) scale(1,1.04)" font-size="41.5">p=7.2*10<tspan font-size="28" dx="1.5" dy="-9.7">-14</tspan></text>
<text transform="translate(361.0,679) rotate(-45) scale(0.99,1.02)" text-anchor="end" font-size="56">Alanine</text>
<text transform="translate(487.3,679) rotate(-45) scale(0.99,1.02)" text-anchor="end" font-size="56">Glycine</text>
<text transform="translate(606.6,681) rotate(-45) scale(0.99,1.02)" text-anchor="end" font-size="56"><tspan font-family="Liberation Serif">β</tspan><tspan font-family="Liberation Serif" font-weight="normal">-</tspan>Alanine</text>
<text transform="translate(739.8,679) rotate(-45) scale(0.99,1.02)" text-anchor="end" font-size="56">Valine</text>
<text transform="translate(866.1,679) rotate(-45) scale(0.99,1.02)" text-anchor="end" font-size="56">Leucine</text>
<text transform="translate(992.4,679) rotate(-45) scale(0.99,1.02)" text-anchor="end" font-size="56">Isoleucine</text>
<text transform="translate(1116.2,679) rotate(-45) scale(0.99,1.02)" text-anchor="end" font-size="56">Serine</text>
<text transform="translate(1245.0,679) rotate(-45) scale(0.99,1.02)" text-anchor="end" font-size="56">Proline</text>
<text transform="translate(1372.7,679) rotate(-45) scale(0.99,1.02)" text-anchor="end" font-size="56">Pyroglutamic acid</text>
<text transform="translate(1497.5,679) rotate(-45) scale(0.99,1.02)" text-anchor="end" font-size="56">Phenylalanine</text>
<text transform="translate(1620.3,679) rotate(-45) scale(0.99,1.02)" text-anchor="end" font-size="56">Cysteine</text>
<text transform="translate(1751.1,679) rotate(-45) scale(0.99,1.02)" text-anchor="end" font-size="56">Glutamic acid</text>
<text transform="translate(1871.4,679) rotate(-45) scale(0.99,1.02)" text-anchor="end" font-size="56">Glutamine</text>
<text transform="translate(1998.6,679) rotate(-45) scale(0.99,1.02)" text-anchor="end" font-size="56">Tyrosine</text>
<text transform="translate(2128.9,679) rotate(-45) scale(0.99,1.02)" text-anchor="end" font-size="56">Tryptophan</text>
</svg>
</body></html>
